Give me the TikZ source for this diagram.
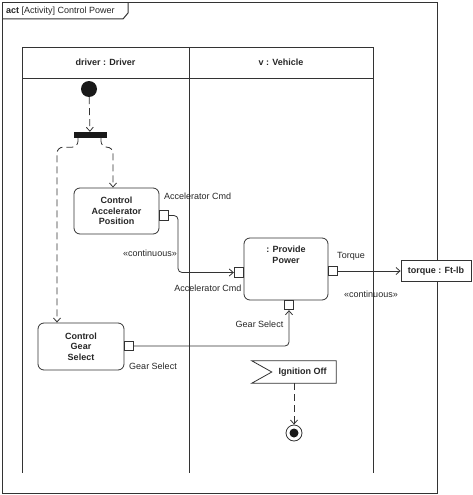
\documentclass[tikz,border=0pt]{standalone}
\usepackage{fontspec}
\setmainfont{Liberation Sans}
\usetikzlibrary{arrows.meta,calc}
\begin{document}
\begin{tikzpicture}[x=1pt,y=-1pt,
  every node/.style={font=\fontsize{9}{10.5}\selectfont, text=black!85},
  ln/.style={draw=black!80, line width=0.8pt},
  action/.style={ln, rounded corners=6pt, align=center, inner sep=0pt, font=\fontsize{9}{10.5}\selectfont\bfseries},
  pin/.style={ln, fill=white, minimum size=9.5pt, inner sep=0pt},
  flow/.style={draw=black!80, line width=0.8pt, rounded corners=4pt, -{Straight Barb[length=4pt,width=7pt]}},
  ctrl/.style={flow, dash pattern=on 7pt off 4pt, rounded corners=6pt},
  lbl/.style={inner sep=1pt}
]
\useasboundingbox (0,0) rectangle (472,495);
% frame
\draw[ln, line width=1pt] (2.5,2.5) rectangle (437,493);
\draw[ln, line width=1pt] (2.5,19) -- (123,19) -- (128,13) -- (128,2.5);
\node[anchor=west, inner sep=0pt] (title) at (6,11) {\textbf{act} [Activity] Control Power};
% swimlanes
\draw[ln] (22,47) rectangle (373,78);
\draw[ln] (22,78) -- (22,473);
\draw[ln] (189,47) -- (189,473);
\draw[ln] (373,78) -- (373,473);
\node[font=\fontsize{9}{10.5}\selectfont\bfseries] (laneA) at (105.5,62.5) {driver : Driver};
\node[font=\fontsize{9}{10.5}\selectfont\bfseries] (laneB) at (281,62.5) {v : Vehicle};
% initial and fork
\node[circle, fill=black!90, minimum size=16pt, inner sep=0pt] (init) at (89,89) {};
\node[fill=black!90, minimum width=33pt, minimum height=6pt, inner sep=0pt] (fork) at (90,135) {};
% actions
\node[action, minimum width=85pt, minimum height=46pt] (cap) at (116.5,211) {Control\\Accelerator\\Position};
\node[action, minimum width=86pt, minimum height=47pt] (cgs) at (81,346.5) {Control\\Gear\\Select};
\node[action, minimum width=84pt, minimum height=62pt,
  label={[anchor=north, yshift=-5pt, align=center, font=\fontsize{9}{10.5}\selectfont\bfseries]north:{: Provide\\Power}}] (pp) at (286,269) {};
\node[ln, fill=white, minimum width=70pt, minimum height=21pt, inner sep=0pt, font=\fontsize{9}{10.5}\selectfont\bfseries] (tq) at (436,271) {torque : Ft-lb};
% pins
\node[pin] (capout) at (164,215.5) {};
\node[pin] (ppin) at (239,272.5) {};
\node[pin] (ppout) at (333,271) {};
\node[pin] (ppgear) at (289,305) {};
\node[pin] (cgsout) at (129,346) {};
% accept event
\node[minimum width=84pt, minimum height=22pt, inner sep=0pt] (ign) at (294,372) {};
\draw[ln, fill=white] (ign.north west) -- (ign.north east) -- (ign.south east) -- (ign.south west) -- ($(ign.west)+(20,0)$) -- cycle;
\node[font=\fontsize{9}{10.5}\selectfont\bfseries] (igntext) at ($(ign.center)+(8.5,0)$) {Ignition Off};
% final
\node[circle, ln, minimum size=16pt, inner sep=0pt] (fin) at (294,433) {};
\fill[black!90] (fin.center) circle (4.5pt);
% control flows
\draw[ctrl] (init) -- (fork);
\draw[ctrl] ([xshift=-12pt]fork.south) -- ++(0,9) -| ([xshift=-24pt]cgs.north);
\draw[ctrl] ([xshift=11pt]fork.south) -- ++(0,9) -| ([xshift=-3.5pt]cap.north);
\draw[ctrl] (ign.south) -- (fin.north);
% object flows
\draw[flow] (capout.east) -- (178,215.5) -- (178,272.5) -- (ppin.west);
\draw[flow] (ppout.east) -- (tq.west);
\draw[flow] (cgsout.east) -- (ppgear.south |- cgsout.east) -- (ppgear.south);
% labels
\node[lbl, anchor=west] (l1) at (163,196) {Accelerator Cmd};
\node[lbl] (l2) at (150,253) {«continuous»};
\node[lbl] (l3) at (208,288) {Accelerator Cmd};
\node[lbl] (l4) at (351,256) {Torque};
\node[lbl] (l5) at (371,294) {«continuous»};
\node[lbl] (l6) at (259.5,324) {Gear Select};
\node[lbl] (l7) at (153,366) {Gear Select};
\end{tikzpicture}
\end{document}
